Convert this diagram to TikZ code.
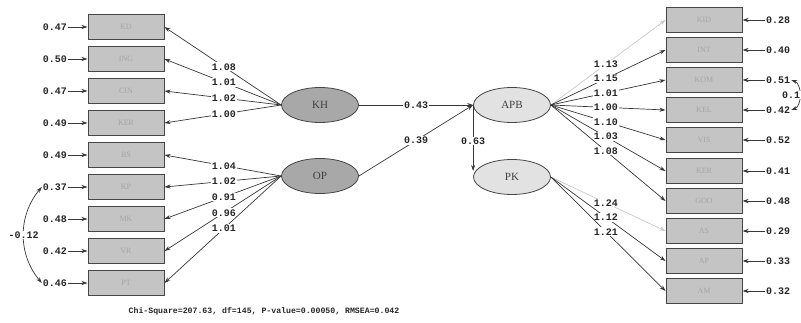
\documentclass[tikz,border=0pt]{standalone}
\usepackage{fontspec}
\setmainfont{Liberation Serif}
\setmonofont{Liberation Mono}
\usepackage{tikz}
\usetikzlibrary{arrows.meta,shapes.geometric}
\definecolor{semborde}{RGB}{70, 70, 70}
\definecolor{semcaja}{RGB}{196, 196, 196}
\definecolor{semtexto}{RGB}{165, 165, 165}
\definecolor{semoscuro}{RGB}{168, 168, 168}
\definecolor{semclaro}{RGB}{226, 226, 226}
\definecolor{semlinea}{RGB}{55, 55, 55}
\definecolor{semgris}{RGB}{200, 200, 200}

\begin{document}
\begin{tikzpicture}[x=1pt, y=-1pt,
    caja/.style={draw=semborde, fill=semcaja, line width=1pt, minimum width=76pt, minimum height=25pt, font=\fontsize{8}{8}\selectfont, text=semtexto},
    latente/.style={ellipse, draw=semborde, line width=0.8pt, minimum width=77pt, minimum height=35pt, font=\fontsize{11}{11}\selectfont, text=black!75},
    num/.style={font=\ttfamily\bfseries\fontsize{10}{10}\selectfont, text=black!85, inner sep=1pt},
    carga/.style={num, fill=white},
    flecha/.style={-{Stealth[length=6pt, width=4pt]}, draw=semlinea, line width=0.7pt}]
    \useasboundingbox (0,0) rectangle (801,323);

    % Variables latentes
    \node[latente, fill=semoscuro] (KH) at (320,105) {KH};
    \node[latente, fill=semoscuro] (OP) at (320,176) {OP};
    \node[latente, fill=semclaro] (APB) at (512,105) {APB};
    \node[latente, fill=semclaro] (PK) at (512,177) {PK};

    % Indicadores de KH
    \foreach \n/\t/\y/\e/\l in {KD/KD/27/0.47/1.08, ING/ING/59/0.50/1.01, CIN/CIN/91/0.47/1.02, KERa/KER/123/0.49/1.00} {
      \node[caja] (\n) at (126,\y) {\t};
      \node[num] (e\n) at (55,\y) {\e};
      \draw[flecha] (e\n) -- (\n);
      \draw[flecha] (KH.west) -- (\n.east) node[carga, pos=0.49] {\l};
    }

    % Indicadores de OP
    \foreach \n/\y/\e/\l in {BS/155/0.49/1.04, KP/187/0.37/1.02, MK/219/0.48/0.91, VR/251/0.42/0.96, PT/283/0.46/1.01} {
      \node[caja] (\n) at (126,\y) {\n};
      \node[num] (e\n) at (55,\y) {\e};
      \draw[flecha] (e\n) -- (\n);
      \draw[flecha] (OP.west) -- (\n.east) node[carga, pos=0.49] {\l};
    }

    % Indicadores de APB
    \foreach \n/\t/\y/\e/\l/\c in {KID/KID/20/0.28/1.13/semgris, INT/INT/50/0.40/1.15/semlinea, KOM/KOM/80/0.51/1.01/semlinea, KEL/KEL/110/0.42/1.00/semlinea, VIS/VIS/140/0.52/1.10/semlinea, KERb/KER/171/0.41/1.03/semlinea, GOO/GOO/201/0.48/1.08/semlinea} {
      \node[caja] (\n) at (704,\y) {\t};
      \node[num] (e\n) at (778,\y) {\e};
      \draw[flecha] (e\n) -- (\n);
      \draw[flecha, draw=\c] (APB.east) -- (\n.west) node[carga, pos=0.48] {\l};
    }

    % Indicadores de PK
    \foreach \n/\y/\e/\l/\c in {AS/231/0.29/1.24/semgris, AP/261/0.33/1.12/semlinea, AM/291/0.32/1.21/semlinea} {
      \node[caja] (\n) at (704,\y) {\n};
      \node[num] (e\n) at (778,\y) {\e};
      \draw[flecha] (e\n) -- (\n);
      \draw[flecha, draw=\c] (PK.east) -- (\n.west) node[carga, pos=0.48] {\l};
    }

    % Relaciones estructurales
    \draw[flecha] (KH) -- (APB) node[carga, midway] {0.43};
    \draw[flecha] (OP.east) -- (APB.west) node[carga, midway] {0.39};
    \draw[flecha, shorten >=6pt] (APB.west) -- (PK.west) node[carga, midway] {0.63};

    % Covarianzas de error
    \draw[{Stealth[length=6pt, width=4pt]}-{Stealth[length=6pt, width=4pt]}, draw=semlinea, line width=0.7pt]
      (eKP.west) to[bend right=40] node[carga, midway] {-0.12} (ePT.west);
    \draw[{Stealth[length=6pt, width=4pt]}-{Stealth[length=6pt, width=4pt]}, draw=semlinea, line width=0.7pt]
      (eKOM.east) to[bend left=70] (eKEL.east);
    \node[carga] (cov) at (791,95) {0.1};

    % Ajuste del modelo
    \node[font=\ttfamily\bfseries\fontsize{8.2}{8.2}\selectfont, text=black!85] (ajuste) at (264,311)
      {Chi-Square=207.63, df=145, P-value=0.00050, RMSEA=0.042};
\end{tikzpicture}
\end{document}
